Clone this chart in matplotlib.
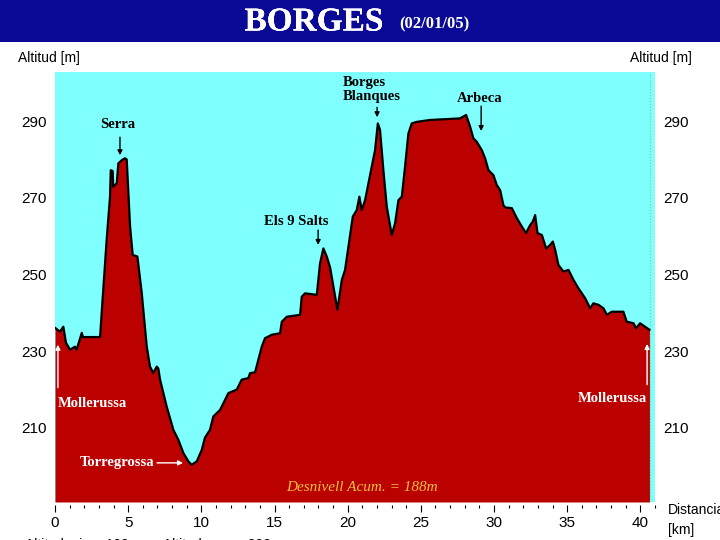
import matplotlib
matplotlib.use("Agg")
import matplotlib.pyplot as plt
import matplotlib.patheffects as pe
from matplotlib.ticker import MultipleLocator

# elevation profile
dist_km = [0.00, 0.34, 0.57, 0.75, 1.03, 1.37, 1.48, 1.83, 1.91, 3.08,
           3.19, 3.53, 3.76, 3.81, 3.94, 3.98, 4.22, 4.33, 4.56, 4.78,
           4.90, 5.13, 5.31, 5.63, 5.93, 6.27, 6.49, 6.72, 6.95, 7.06,
           7.18, 7.63, 8.09, 8.43, 8.77, 9.11, 9.34, 9.69, 10.03, 10.25,
           10.59, 10.82, 11.28, 11.85, 12.42, 12.76, 13.21, 13.33, 13.67, 13.90,
           14.13, 14.35, 14.81, 15.38, 15.50, 15.84, 16.75, 16.86, 17.09, 17.89,
           18.11, 18.34, 18.57, 18.80, 19.02, 19.30, 19.60, 19.82, 20.05, 20.35,
           20.62, 20.80, 20.96, 21.19, 21.42, 21.65, 21.87, 22.06, 22.21, 22.44,
           22.67, 23.01, 23.24, 23.47, 23.70, 23.92, 24.15, 24.38, 24.72, 25.63,
           27.68, 28.09, 28.37, 28.59, 28.82, 29.17, 29.39, 29.62, 29.96, 30.19,
           30.42, 30.64, 30.76, 31.22, 31.56, 31.90, 32.19, 32.47, 32.65, 32.81,
           32.97, 33.27, 33.56, 33.83, 34.02, 34.18, 34.40, 34.74, 35.09, 35.43,
           35.77, 36.23, 36.57, 36.79, 37.14, 37.48, 37.71, 38.05, 38.84, 39.07,
           39.53, 39.71, 39.98, 40.32, 40.62]
alt_m = [236.1, 235.1, 236.4, 232.2, 230.4, 231.2, 230.4, 234.8, 233.7, 233.7,
         240.0, 259.0, 270.3, 277.2, 277.0, 272.9, 273.8, 279.0, 279.8, 280.3,
         280.0, 262.5, 255.1, 254.7, 245.1, 231.2, 226.0, 224.3, 226.0, 225.5,
         222.6, 215.6, 209.5, 206.9, 203.5, 201.3, 200.4, 201.3, 204.3, 207.5,
         209.5, 213.0, 214.7, 219.1, 220.0, 222.6, 223.0, 224.3, 224.5, 227.8,
         231.2, 233.4, 234.3, 234.7, 237.7, 239.0, 239.5, 244.2, 245.1, 244.7,
         252.9, 256.8, 254.7, 251.8, 246.9, 240.8, 248.6, 251.2, 257.3, 265.1,
         266.8, 270.3, 266.8, 269.4, 273.8, 278.1, 282.4, 289.4, 287.7, 277.2,
         267.7, 260.3, 263.4, 269.4, 270.3, 278.1, 286.8, 289.4, 289.8, 290.3,
         290.7, 291.6, 288.5, 285.5, 284.6, 282.4, 280.3, 277.2, 275.9, 273.3,
         272.0, 268.1, 267.5, 267.3, 264.7, 262.5, 260.8, 262.9, 263.8, 265.5,
         260.8, 260.3, 256.8, 257.7, 258.6, 256.4, 252.5, 250.8, 251.2, 248.6,
         246.4, 243.8, 241.2, 242.5, 242.1, 241.2, 239.5, 240.3, 240.3, 237.7,
         237.3, 236.0, 237.3, 236.4, 235.6]

yticks = [210, 230, 250, 270, 290]

# place labels: (text, text km, text alt, arrow from, arrow to, colour, align)
places = [
    ("Serra", 4.31, 289.2, (4.44, 285.8), (4.44, 281.1), "black", "center"),
    ("Els 9 Salts", 16.47, 263.7, (17.98, 261.6), (17.98, 257.7), "black", "center"),
    ("Borges\nBlanques", 19.69, 298.3, (22.01, 293.6), (22.01, 291.0), "black", "left"),
    ("Arbeca", 29.05, 296.0, (29.12, 293.9), (29.12, 287.4), "black", "center"),
    ("Mollerussa", 0.2, 216.3, (0.2, 220.5), (0.2, 231.7), "white", "left"),
    ("Mollerussa", 40.46, 217.6, (40.46, 221.3), (40.46, 231.9), "white", "right"),
    ("Torregrossa", 1.71, 200.9, (6.97, 200.9), (8.75, 200.9), "white", "left"),
]

W, H = 720, 540
fig = plt.figure(figsize=(7.2, 5.4), dpi=100)
fig.patch.set_facecolor("white")

def fx(px):
    return px / W

def fy(py):
    return 1 - py / H

# title bar
bar = plt.Rectangle((0, fy(42)), 1, 42 / H, transform=fig.transFigure,
                    facecolor="#0a0a96", edgecolor="none")
fig.patches.append(bar)
shadow = [pe.withSimplePatchShadow(offset=(1.5, -1.5), shadow_rgbFace="#202020", alpha=0.8)]
fig.text(fx(314), fy(22), "BORGES", color="white", fontsize=24,
         fontweight="bold", family="Liberation Serif", ha="center", va="center",
         path_effects=[pe.withStroke(linewidth=0, foreground="white"),
                       pe.SimpleLineShadow(offset=(1.5, -1.5), shadow_color="#202020", alpha=0.8),
                       pe.Normal()])
fig.text(fx(434), fy(24), "(02/01/05)", color="white", fontsize=12,
         fontweight="bold", family="Liberation Serif", ha="center", va="center")

sans = ["Liberation Sans Narrow", "Liberation Sans", "DejaVu Sans"]
serif = ["Liberation Serif", "DejaVu Serif"]

ax = fig.add_axes([fx(55), fy(502), 600 / W, 430 / H])
ax.set_facecolor("#80ffff")
ax.set_xlim(0, 41.0)
ax.set_ylim(190.7, 302.8)

ax.fill_between(dist_km, alt_m, 190.7, color="#bb0000", lw=0)
ax.plot(dist_km, alt_m, color="black", lw=1.6)
ax.axvline(40.67, color="#66dd66", lw=0.8, ls=":")

for sp in ax.spines.values():
    sp.set_visible(False)
ax.spines["bottom"].set_position(("outward", 2))

ax.xaxis.set_major_locator(MultipleLocator(5))
ax.xaxis.set_minor_locator(MultipleLocator(1))
ax.tick_params(axis="x", which="major", length=5, width=0.8, pad=3, labelsize=11)
ax.tick_params(axis="x", which="minor", length=2.5, width=0.8)
ax.set_yticks(yticks)
ax.tick_params(axis="y", length=0, pad=6, labelsize=11,
               left=True, right=True, labelleft=True, labelright=True)
for lab in ax.get_xticklabels() + ax.get_yticklabels():
    lab.set_family(sans)

for name, tx, ty, a0, a1, col, ha in places:
    ax.text(tx, ty, name, color=col, fontsize=10.5, fontweight="bold",
            family=serif, ha=ha, va="center", linespacing=1.1)
    ax.annotate("", xy=a1, xytext=a0,
                arrowprops=dict(arrowstyle="-|>", color=col, lw=1,
                                mutation_scale=7, shrinkA=0, shrinkB=0))

ax.text(20.98, 194.4, "Desnivell Acum. = 188m", color="#f0c040", fontsize=11,
        style="italic", family=serif, ha="center", va="center")

fig.text(fx(18), fy(58), "Altitud [m]", fontsize=10, family=sans, va="center")
fig.text(fx(630), fy(58), "Altitud [m]", fontsize=10, family=sans, va="center")
fig.text(fx(668), fy(510), "Distancia", fontsize=10, family=sans, va="center")
fig.text(fx(668), fy(530), "[km]", fontsize=10, family=sans, va="center")
fig.text(fx(25), fy(538), "Altitud min = 199m      Altitud max = 292m",
         fontsize=10, family=sans, va="top")

fig.savefig("out.png", dpi=100)
